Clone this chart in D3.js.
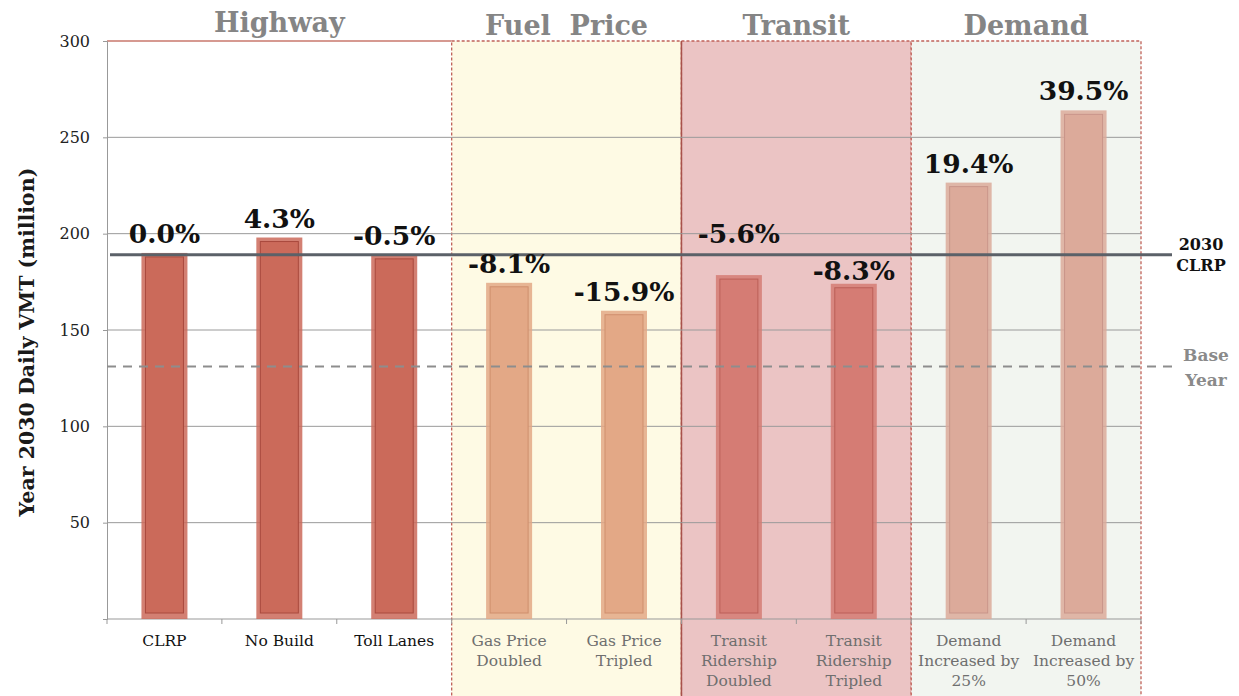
<!DOCTYPE html>
<html>
<head>
<meta charset="utf-8">
<script src="https://cdn.jsdelivr.net/npm/d3@7"></script>
<style>
  body { margin: 0; background: #fff; }
  svg text { font-family: "DejaVu Serif", "Liberation Serif", serif; }
</style>
</head>
<body>
<div id="chart"></div>
<script>
var w = 1239, h = 696;

// data
var categories = [
  ["CLRP"], ["No Build"], ["Toll Lanes"],
  ["Gas Price", "Doubled"], ["Gas Price", "Tripled"],
  ["Transit", "Ridership", "Doubled"], ["Transit", "Ridership", "Tripled"],
  ["Demand", "Increased by", "25%"], ["Demand", "Increased by", "50%"]
];
var groupOf = ["Highway", "Highway", "Highway", "Fuel  Price", "Fuel  Price", "Transit", "Transit", "Demand", "Demand"];
var vmt = [190, 198, 189, 174.5, 160, 178.5, 174, 226.5, 264];
var pctLabels = ["0.0%", "4.3%", "-0.5%", "-8.1%", "-15.9%", "-5.6%", "-8.3%", "19.4%", "39.5%"];
var groups = ["Highway", "Fuel  Price", "Transit", "Demand"];
var yTicks = [50, 100, 150, 200, 250, 300];
var clrp2030 = 189;
var baseYear = 131;

// styles
var barFill = { "Highway": "#cb6a5a", "Fuel  Price": "#e3a886", "Transit": "#d57c74", "Demand": "#dcaa9a" };
var barEdge = { "Highway": "#a94a3e", "Fuel  Price": "#cf8f6d", "Transit": "#bb5f58", "Demand": "#c9958a" };
var panelFill = { "Highway": "none", "Fuel  Price": "#fefae4", "Transit": "#ebc4c4", "Demand": "#f2f5f0" };
var labelLift = [0, 0, 0, 0, 0, 22, -6, 0, 0];

var m = { left: 107, right: 98, top: 41, bottom: 77 };

var svg = d3.select("#chart").append("svg")
  .attr("width", w).attr("height", h);

var x = d3.scaleBand()
  .domain(d3.range(categories.length))
  .range([m.left, w - m.right])
  .paddingInner(0).paddingOuter(0);

var y = d3.scaleLinear()
  .domain([0, 300])
  .range([h - m.bottom, m.top]);

// group panels
groups.forEach(function(g, gi) {
  var idx = d3.range(categories.length).filter(function(i) { return groupOf[i] == g; });
  var x0 = x(idx[0]), x1 = x(idx[idx.length - 1]) + x.bandwidth();
  if (g == "Highway") {
    svg.append("line")
      .attr("x1", x0).attr("x2", x1).attr("y1", y(300)).attr("y2", y(300))
      .attr("stroke", "#c9776c").attr("stroke-width", 1.5);
  } else {
    svg.append("rect")
      .attr("x", x0).attr("y", y(300)).attr("width", x1 - x0).attr("height", h + 10 - y(300))
      .attr("fill", panelFill[g])
      .attr("stroke", "#c0625a").attr("stroke-width", 1.3)
      .attr("stroke-dasharray", "3,2");
  }
  svg.append("text")
    .attr("x", (x0 + x1) / 2).attr("y", g == "Highway" ? 32 : 35)
    .attr("text-anchor", "middle")
    .attr("font-size", 27).attr("font-weight", "bold")
    .attr("fill", "#858585")
    .attr("xml:space", "preserve")
    .text(g);
});

// solid divider between fuel and transit
svg.append("line")
  .attr("x1", x(5)).attr("x2", x(5)).attr("y1", y(300)).attr("y2", h)
  .attr("stroke", "#a8524c").attr("stroke-width", 1.5);

// grid lines
svg.append("g").selectAll("line")
  .data(yTicks.filter(function(d) { return d < 300; }))
  .enter().append("line")
  .attr("x1", m.left).attr("x2", w - m.right)
  .attr("y1", function(d) { return y(d); }).attr("y2", function(d) { return y(d); })
  .attr("stroke", "#9a9a9a").attr("stroke-width", 1);

// y axis
var yAxis = svg.append("g")
  .attr("transform", "translate(" + m.left + ",0)")
  .call(d3.axisLeft(y).tickValues(yTicks).tickSize(4).tickPadding(13));
yAxis.select(".domain").attr("stroke", "#999");
yAxis.selectAll(".tick line").attr("stroke", "#999");
yAxis.selectAll("text").attr("font-size", 16).attr("fill", "#222")
  .style("font-family", "DejaVu Serif");

svg.append("text")
  .attr("transform", "translate(34,342) rotate(-90)")
  .attr("text-anchor", "middle")
  .attr("font-size", 20.5).attr("font-weight", "bold").attr("fill", "#1a1a1a")
  .text("Year 2030 Daily VMT (million)");

// x axis line and ticks at band edges
svg.append("line")
  .attr("x1", m.left).attr("x2", w - m.right)
  .attr("y1", y(0)).attr("y2", y(0))
  .attr("stroke", "#999");
svg.append("g").selectAll("line")
  .data(d3.range(categories.length + 1))
  .enter().append("line")
  .attr("x1", function(i) { return m.left + i * x.step(); })
  .attr("x2", function(i) { return m.left + i * x.step(); })
  .attr("y1", y(0)).attr("y2", y(0) + 5)
  .attr("stroke", "#999");

// bars
var bw = 46;
var bars = svg.append("g").selectAll("g")
  .data(vmt).enter().append("g");

bars.append("rect")
  .attr("x", function(d, i) { return x(i) + x.bandwidth() / 2 - bw / 2; })
  .attr("y", function(d) { return y(d); })
  .attr("width", bw)
  .attr("height", function(d) { return y(0) - y(d); })
  .attr("fill", function(d, i) { return barFill[groupOf[i]]; })
  .attr("opacity", 0.85);

bars.append("rect")
  .attr("x", function(d, i) { return x(i) + x.bandwidth() / 2 - bw / 2 + 4; })
  .attr("y", function(d) { return y(d) + 4; })
  .attr("width", bw - 8)
  .attr("height", function(d) { return y(0) - y(d) - 10; })
  .attr("fill", function(d, i) { return barFill[groupOf[i]]; })
  .attr("stroke", function(d, i) { return barEdge[groupOf[i]]; })
  .attr("stroke-width", 1);

// reference lines
svg.append("line")
  .attr("x1", m.left + 3).attr("x2", 1172)
  .attr("y1", y(clrp2030)).attr("y2", y(clrp2030))
  .attr("stroke", "#5b6168").attr("stroke-width", 3);

svg.append("line")
  .attr("x1", m.left).attr("x2", 1172)
  .attr("y1", y(baseYear)).attr("y2", y(baseYear))
  .attr("stroke", "#8d8d8d").attr("stroke-width", 2)
  .attr("stroke-dasharray", "9,7");

svg.append("text").attr("x", 1201).attr("y", y(clrp2030) - 5)
  .attr("text-anchor", "middle").attr("font-size", 16).attr("font-weight", "bold")
  .attr("fill", "#111").text("2030");
svg.append("text").attr("x", 1201).attr("y", y(clrp2030) + 16)
  .attr("text-anchor", "middle").attr("font-size", 16).attr("font-weight", "bold")
  .attr("fill", "#111").text("CLRP");
svg.append("text").attr("x", 1206).attr("y", y(baseYear) - 6)
  .attr("text-anchor", "middle").attr("font-size", 17).attr("font-weight", "bold")
  .attr("fill", "#8a8a8a").text("Base");
svg.append("text").attr("x", 1206).attr("y", y(baseYear) + 19)
  .attr("text-anchor", "middle").attr("font-size", 17).attr("font-weight", "bold")
  .attr("fill", "#8a8a8a").text("Year");

// value labels
svg.append("g").selectAll("text")
  .data(vmt).enter().append("text")
  .attr("x", function(d, i) { return x(i) + x.bandwidth() / 2; })
  .attr("y", function(d, i) { return y(d) - 10 - labelLift[i]; })
  .attr("text-anchor", "middle")
  .attr("font-size", 26.5).attr("font-weight", "bold").attr("fill", "#111")
  .text(function(d, i) { return pctLabels[i]; });

// category labels
var cat = svg.append("g").selectAll("text")
  .data(categories).enter().append("text")
  .attr("x", function(d, i) { return x(i) + x.bandwidth() / 2; })
  .attr("y", y(0) + 27)
  .attr("text-anchor", "middle")
  .attr("font-size", 15.5)
  .attr("fill", function(d, i) { return groupOf[i] == "Highway" ? "#111" : "#6f6f6f"; });
cat.selectAll("tspan")
  .data(function(d) { return d; }).enter().append("tspan")
  .attr("x", function() { return this.parentNode.getAttribute("x"); })
  .attr("dy", function(d, j) { return j == 0 ? 0 : 20; })
  .text(function(d) { return d; });
</script>
</body>
</html>
